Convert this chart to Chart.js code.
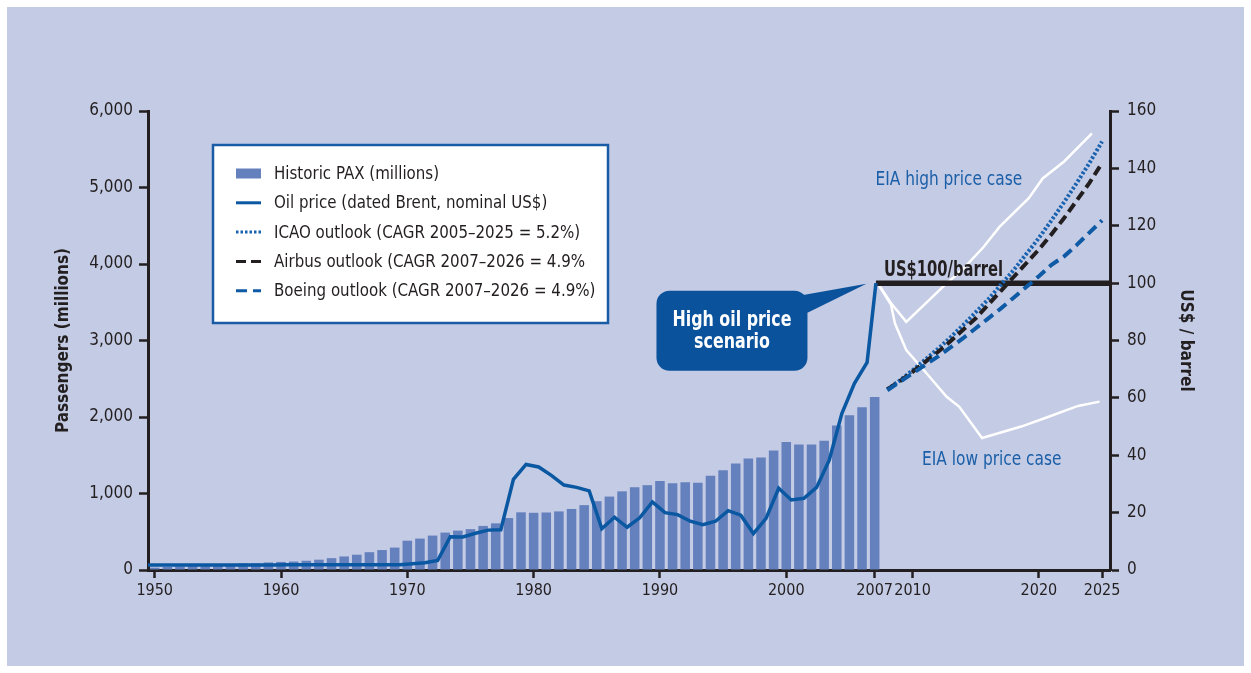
<!DOCTYPE html>
<html>
<head>
<meta charset="utf-8">
<script src="https://cdn.jsdelivr.net/npm/chart.js@4.4.1/dist/chart.umd.min.js"></script>
<style>
  html, body { margin: 0; padding: 0; background: #fff; }
  #wrap { position: absolute; left: 7px; top: 7px; width: 1237px; height: 659px; background: #c4cbe4; }
</style>
</head>
<body>
<div id="wrap"><canvas id="chart" width="1237" height="659"></canvas></div>
<script>
// historic data
const years = [1950,1951,1952,1953,1954,1955,1956,1957,1958,1959,
  1960,1961,1962,1963,1964,1965,1966,1967,1968,1969,
  1970,1971,1972,1973,1974,1975,1976,1977,1978,1979,
  1980,1981,1982,1983,1984,1985,1986,1987,1988,1989,
  1990,1991,1992,1993,1994,1995,1996,1997,1998,1999,
  2000,2001,2002,2003,2004,2005,2006,2007];
const paxHistoric = [31,40,46,53,60,68,77,87,88,99,
  106,111,121,135,155,177,200,233,261,293,
  383,411,450,489,515,534,576,610,679,754,
  748,752,766,798,848,899,960,1028,1082,1109,
  1165,1135,1146,1142,1233,1304,1391,1457,1471,1562,
  1672,1640,1639,1691,1888,2022,2128,2260];
const oilPrice = [1.7,1.7,1.7,1.7,1.7,1.7,1.7,1.7,1.7,1.7,
  1.7,1.8,1.8,1.8,1.8,1.8,1.8,1.8,1.8,1.8,
  1.8,2.2,2.5,3.3,11.6,11.5,12.8,13.9,14.0,31.6,
  36.8,35.9,33.0,29.6,28.8,27.6,14.4,18.4,14.9,18.2,
  23.7,20.0,19.3,17.0,15.8,17.0,20.7,19.1,12.7,18.0,
  28.5,24.4,25.0,28.8,38.3,54.5,65.1,72.4];
const scenarioYear = 2007.1;
const scenarioPrice = 100;

// forecasts (passengers, millions)
const forecastYears = [2008,2009,2010,2011,2012,2013,2014,2015,2016,2017,2018,2019,2020,2021,2022,2023,2024,2025];
const icaoOutlook   = [2360,2480,2610,2750,2890,3040,3200,3370,3540,3730,3920,4130,4340,4570,4810,5060,5320,5600];
const airbusOutlook = [2360,2470,2590,2720,2850,2990,3140,3290,3470,3650,3830,4010,4190,4390,4600,4830,5060,5320];
const boeingOutlook = [2350,2460,2570,2680,2790,2910,3030,3160,3290,3420,3560,3700,3840,3990,4100,4250,4410,4570];

// EIA oil price cases (US$/barrel)
const eiaHighYears = [2007.3,2008.3,2009.5,2012.4,2014.0,2015.6,2016.9,2019.2,2020.3,2022.0,2024.2];
const eiaHigh      = [99.5,93,86.5,98.7,105,112.5,119.7,129.6,136.5,142.4,152.2];
const eiaLowYears  = [2007.3,2008.3,2008.6,2009.5,2011.1,2012.7,2013.7,2015.5,2018.6,2020.5,2023.1,2024.8];
const eiaLow       = [99.5,92.4,86,76.7,68.6,60.4,56.9,46,50,53,57.2,58.7];

const xTicks = [1950,1960,1970,1980,1990,2000,2007,2010,2020,2025];
const X_MIN = 1949.47, X_MAX = 2025.63;

const DARK = '#231f20';
const FONT = '"Liberation Sans Narrow", "Arial Narrow", "DejaVu Sans Condensed", sans-serif';
Chart.defaults.font.family = FONT;
Chart.defaults.color = DARK;

const toPts = (xs, ys) => xs.map((x, i) => ({x: x, y: ys[i]}));

const oilPts = toPts(years.map(y => y - 0.6), oilPrice).concat([{x: scenarioYear, y: scenarioPrice}]);

const datasets = [
  { type: 'bar', label: 'Historic PAX (millions)', data: toPts(years, paxHistoric), yAxisID: 'y',
    backgroundColor: '#6581bd', categoryPercentage: 0.84, barPercentage: 0.9, order: 10 },
  { type: 'line', label: 'EIA high', data: toPts(eiaHighYears, eiaHigh), yAxisID: 'y1',
    borderColor: '#ffffff', borderWidth: 2.5, pointRadius: 0, order: 6, legend: false },
  { type: 'line', label: 'EIA low', data: toPts(eiaLowYears, eiaLow), yAxisID: 'y1',
    borderColor: '#ffffff', borderWidth: 2.5, pointRadius: 0, order: 6, legend: false },
  { type: 'line', label: 'US$100', data: [{x: scenarioYear, y: 100}, {x: X_MAX, y: 100}], yAxisID: 'y1',
    borderColor: DARK, borderWidth: 5.5, pointRadius: 0, order: 5, legend: false },
  { type: 'line', label: 'Oil price (dated Brent, nominal US$)', data: oilPts, yAxisID: 'y1',
    borderColor: '#0a57a2', borderWidth: 3.5, pointRadius: 0, order: 4 },
  { type: 'line', label: 'ICAO outlook (CAGR 2005\u20132025 = 5.2%)', data: toPts(forecastYears, icaoOutlook), yAxisID: 'y',
    borderColor: '#1862b0', borderWidth: 4, borderDash: [2.5, 2], pointRadius: 0, order: 3 },
  { type: 'line', label: 'Airbus outlook (CAGR 2007\u20132026 = 4.9%', data: toPts(forecastYears, airbusOutlook), yAxisID: 'y',
    borderColor: DARK, borderWidth: 4, borderDash: [10, 5], pointRadius: 0, order: 2 },
  { type: 'line', label: 'Boeing outlook (CAGR 2007\u20132026 = 4.9%)', data: toPts(forecastYears, boeingOutlook), yAxisID: 'y',
    borderColor: '#0f5aa5', borderWidth: 4, borderDash: [11, 6], pointRadius: 0, order: 1 }
];

// text squeezed horizontally, to get close to the condensed face of the original
function narrowText(ctx, text, x, y, sx) {
  ctx.save();
  ctx.translate(x, y);
  ctx.scale(sx, 1);
  ctx.fillText(text, 0, 0);
  ctx.restore();
}

// legend box, callout and text labels
const extras = {
  id: 'extras',
  afterDraw(chart) {
    const ctx = chart.ctx;
    const x = chart.scales.x, y1 = chart.scales.y1;
    ctx.save();

    // legend
    const lx = 206, ly = 138, lw = 395, lh = 178;
    ctx.fillStyle = '#ffffff';
    ctx.fillRect(lx, ly, lw, lh);
    ctx.strokeStyle = '#1a5ba6';
    ctx.lineWidth = 2.5;
    ctx.strokeRect(lx, ly, lw, lh);
    const items = datasets.filter(d => d.legend !== false);
    ctx.font = '18px ' + FONT;
    ctx.textBaseline = 'middle';
    items.forEach((d, i) => {
      const cy = ly + 28.5 + i * 29.3;
      if (d.type === 'bar') {
        ctx.fillStyle = d.backgroundColor;
        ctx.fillRect(lx + 23, cy - 5, 25, 10);
      } else {
        ctx.strokeStyle = d.borderColor;
        ctx.lineWidth = 3;
        ctx.setLineDash(d.borderDash || []);
        ctx.beginPath();
        ctx.moveTo(lx + 23, cy);
        ctx.lineTo(lx + 48, cy);
        ctx.stroke();
        ctx.setLineDash([]);
      }
      ctx.fillStyle = DARK;
      ctx.textAlign = 'left';
      narrowText(ctx, d.label, lx + 61, cy + 1, 0.93);
    });

    // callout
    const tipX = x.getPixelForValue(2006.35), tipY = y1.getPixelForValue(99.8);
    const bx = tipX - 210, by = tipY + 7, bw = 151, bh = 80, r = 13;
    ctx.fillStyle = '#0a529c';
    ctx.beginPath();
    ctx.roundRect(bx, by, bw, bh, r);
    ctx.fill();
    ctx.beginPath();
    ctx.moveTo(bx + bw - 14, by + 6);
    ctx.lineTo(tipX, tipY);
    ctx.lineTo(bx + bw, by + 22);
    ctx.closePath();
    ctx.fill();
    ctx.fillStyle = '#ffffff';
    ctx.font = 'bold 21px ' + FONT;
    ctx.textAlign = 'center';
    narrowText(ctx, 'High oil price', bx + bw / 2, by + 30, 0.84);
    narrowText(ctx, 'scenario', bx + bw / 2, by + 52, 0.84);

    // US$100/barrel
    ctx.fillStyle = DARK;
    ctx.font = 'bold 21px ' + FONT;
    ctx.textAlign = 'left';
    ctx.textBaseline = 'alphabetic';
    narrowText(ctx, 'US$100/barrel', x.getPixelForValue(scenarioYear) + 8, y1.getPixelForValue(100) - 7, 0.78);

    // EIA labels
    ctx.fillStyle = '#1b5fa8';
    ctx.font = '19px ' + FONT;
    ctx.textAlign = 'center';
    ctx.textBaseline = 'middle';
    narrowText(ctx, 'EIA high price case', x.getPixelForValue(2012.87), y1.getPixelForValue(135.9), 0.9);
    narrowText(ctx, 'EIA low price case', x.getPixelForValue(2016.27), y1.getPixelForValue(38.3), 0.9);

    ctx.restore();
  }
};

new Chart(document.getElementById('chart'), {
  data: { datasets: datasets },
  options: {
    responsive: false,
    animation: false,
    events: [],
    layout: { padding: { left: 40, right: 44, top: 104, bottom: 36 } },
    plugins: { legend: { display: false }, tooltip: { enabled: false } },
    scales: {
      x: {
        type: 'linear', min: X_MIN, max: X_MAX, offset: false,
        afterBuildTicks: s => { s.ticks = xTicks.map(v => ({ value: v })); },
        afterFit: s => { s.height = 60; },
        grid: { offset: false, drawOnChartArea: false, tickLength: 8, tickWidth: 2.5, color: DARK },
        border: { color: DARK, width: 3 },
        ticks: { padding: 3, font: { size: 16 }, color: DARK, autoSkip: false, maxRotation: 0,
          callback: v => String(v) }
      },
      y: {
        position: 'left', min: 0, max: 6000,
        afterFit: s => { s.width = 101; },
        grid: { drawOnChartArea: false, tickLength: 9, tickWidth: 2.5, color: DARK },
        border: { color: DARK, width: 3 },
        ticks: { stepSize: 1000, padding: 6, font: { size: 17 }, color: DARK },
        title: { display: true, text: 'Passengers (millions)', color: DARK,
          font: { size: 17, weight: 'bold' }, padding: { top: 6, bottom: 0 } }
      },
      y1: {
        position: 'right', min: 0, max: 160,
        afterFit: s => { s.width = 90; },
        grid: { drawOnChartArea: false, tickLength: 9, tickWidth: 2.5, color: DARK },
        border: { color: DARK, width: 3 },
        ticks: { stepSize: 20, padding: 8, font: { size: 17 }, color: DARK },
        title: { display: true, text: 'US$ / barrel', color: DARK,
          font: { size: 17, weight: 'bold' }, padding: { top: 4, bottom: 0 } }
      }
    }
  },
  plugins: [extras]
});
</script>
</body>
</html>
